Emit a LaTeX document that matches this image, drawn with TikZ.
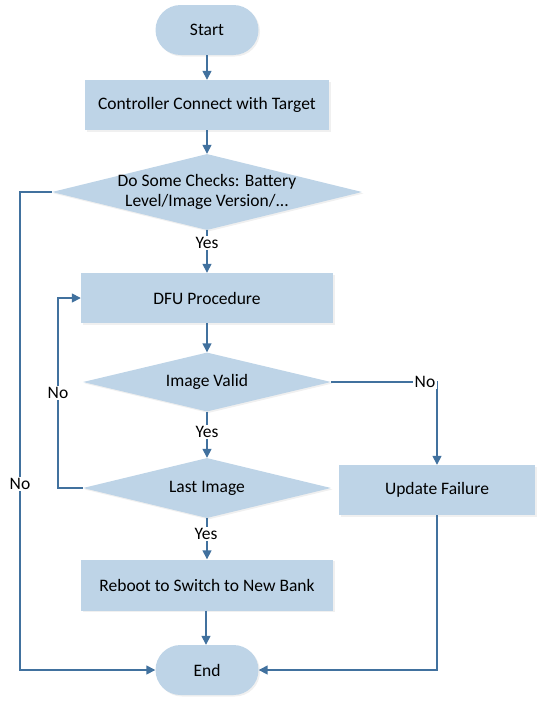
\documentclass[tikz,border=0pt]{standalone}
\usepackage{fontspec}
\setmainfont{Carlito}
\usetikzlibrary{shapes.geometric,arrows.meta,shadows}
\definecolor{boxfill}{RGB}{190,212,231}
\definecolor{linec}{RGB}{65,113,158}
\begin{document}
\begin{tikzpicture}[x=1pt,y=-1pt,
  font=\fontsize{17.5}{20}\selectfont,
  base/.style={fill=boxfill,draw=none,inner sep=0pt,
    drop shadow={opacity=0.12,shadow xshift=1.5pt,shadow yshift=-1.5pt}},
  procbox/.style={base,rectangle,minimum height=50pt},
  termbox/.style={base,rectangle,rounded corners=25pt,minimum width=103pt,minimum height=50pt},
  decbox/.style={base,diamond},
  conn/.style={draw=linec,line width=1.5pt,-{Triangle[width=9pt,length=9pt]}},
  lbl/.style={fill=white,inner sep=1.5pt}]
\useasboundingbox (0,0) rectangle (544,707);
\node[termbox] (start) at (207,30) {Start};
\node[procbox,minimum width=244pt] (ctrl) at (207,105) {Controller Connect with Target};
\node[decbox,minimum width=310pt,minimum height=76pt] (d1) at (207,192) {};
\node[align=center] (d1t) at (d1) {Do Some Checks: Battery\\Level/Image Version/...};
\node[procbox,minimum width=252pt] (dfu) at (207,298) {DFU Procedure};
\node[decbox,minimum width=248pt,minimum height=59pt] (dv) at (207,382) {};
\node (dvt) at (dv) {Image Valid};
\node[decbox,minimum width=248pt,minimum height=60pt] (dl) at (207,488) {};
\node (dlt) at (dl) {Last Image};
\node[procbox,minimum width=196pt] (fail) at (437,490) {Update Failure};
\node[procbox,minimum width=252pt,minimum height=51pt] (reboot) at (207,585) {Reboot to Switch to New Bank};
\node[termbox] (end) at (207,670) {End};

\coordinate (o1) at (20,192);
\coordinate (o2) at (20,670);
\coordinate (l1) at (58,488);
\coordinate (l2) at (58,298);
\coordinate (r1) at (437,382);
\coordinate (f2) at (437,670);

\draw[conn] (start) -- (ctrl);
\draw[conn] (ctrl) -- (d1);
\draw[conn] (d1.south) -- (dfu.north);
\node[lbl] at (207,243) {Yes};
\draw[conn] (dfu) -- (dv.north);
\draw[conn] (dv.south) -- (dl.north);
\node[lbl] at (207,432) {Yes};
\draw[conn] (dl.south) -- (reboot.north);
\node[lbl] at (206,534) {Yes};
\draw[conn] (reboot.south -| 206,0) -- (end.north -| 206,0);
\draw[conn] (dv.east) -- (r1) -- (fail.north);
\node[lbl] at (425,382) {No};
\draw[conn] (dl.west) -- (l1) -- (l2) -- (dfu.west);
\node[lbl] at (58,393) {No};
\draw[conn] (d1.west) -- (o1) -- (o2) -- (end.west);
\node[lbl] at (20,484) {No};
\draw[conn] (fail.south) -- (f2) -- (end.east);
\end{tikzpicture}
\end{document}
